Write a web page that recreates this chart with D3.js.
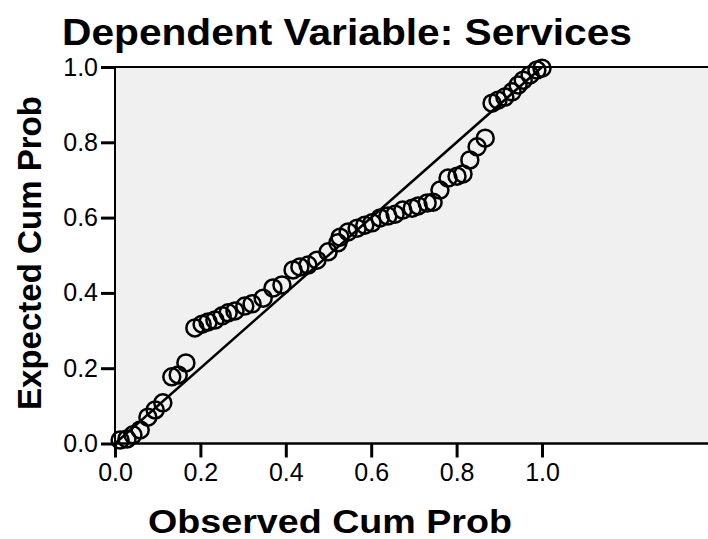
<!DOCTYPE html>
<html>
<head>
<meta charset="utf-8">
<script src="https://cdn.jsdelivr.net/npm/d3@7"></script>
<style>
  body { margin: 0; background: #fff; }
  text { font-family: "Liberation Sans", Arial, sans-serif; }
</style>
</head>
<body>
<div id="chart"></div>
<script>
// observed vs expected cumulative probability
const observed = [0.012, 0.028, 0.042, 0.059, 0.077, 0.094, 0.112, 0.133, 0.148, 0.166,
  0.187, 0.204, 0.218, 0.234, 0.251, 0.265, 0.281, 0.304, 0.321, 0.347,
  0.370, 0.391, 0.417, 0.433, 0.452, 0.473, 0.499, 0.522, 0.527, 0.546,
  0.567, 0.585, 0.602, 0.621, 0.639, 0.656, 0.674, 0.696, 0.710, 0.731,
  0.745, 0.761, 0.780, 0.801, 0.815, 0.831, 0.848, 0.867, 0.883, 0.897,
  0.913, 0.930, 0.944, 0.956, 0.972, 0.988, 1.0];
const expected = [0.009, 0.012, 0.023, 0.036, 0.070, 0.089, 0.108, 0.177, 0.182, 0.214,
  0.307, 0.317, 0.323, 0.328, 0.339, 0.347, 0.352, 0.365, 0.371, 0.386,
  0.413, 0.421, 0.461, 0.469, 0.474, 0.487, 0.509, 0.533, 0.548, 0.562,
  0.572, 0.580, 0.586, 0.599, 0.604, 0.609, 0.620, 0.625, 0.631, 0.639,
  0.641, 0.673, 0.705, 0.710, 0.716, 0.753, 0.788, 0.811, 0.904, 0.912,
  0.920, 0.934, 0.952, 0.965, 0.979, 0.992, 0.997];
const tickValues = [0, 0.2, 0.4, 0.6, 0.8, 1.0];
const refLine = [0, 1];

const width = 708, height = 539;

const svg = d3.select("#chart")
  .append("svg")
  .attr("width", width)
  .attr("height", height);

let x = d3.scaleLinear().domain([0, 1]).range([115, 542]);
let y = d3.scaleLinear().domain([0, 1]).range([443.5, 67]);

// plot background
svg.append("rect")
  .attr("x", x(0))
  .attr("y", y(1))
  .attr("width", width - x(0))
  .attr("height", y(0) - y(1))
  .style("fill", "#f0f0f0");

// axes
let yAxis = d3.axisLeft(y).tickValues(tickValues).tickSize(14).tickPadding(3)
  .tickFormat(d3.format(".1f"));
let gy = svg.append("g")
  .attr("transform", "translate(" + x(0) + ",0)")
  .call(yAxis);

let xAxis = d3.axisBottom(x).tickValues(tickValues).tickSize(14).tickPadding(6)
  .tickFormat(d3.format(".1f"));
let gx = svg.append("g")
  .attr("transform", "translate(0," + y(0) + ")")
  .call(xAxis);

[gx, gy].forEach(g => {
  g.select(".domain").remove();
  g.selectAll(".tick line").style("stroke", "#000").style("stroke-width", 3);
  g.selectAll(".tick text")
    .style("font-size", "25px")
    .style("fill", "#000");
});

// frame lines
svg.append("line")
  .attr("x1", x(0)).attr("x2", width)
  .attr("y1", y(1)).attr("y2", y(1))
  .style("stroke", "#000").style("stroke-width", 2);
svg.append("line")
  .attr("x1", x(0)).attr("x2", width)
  .attr("y1", y(0)).attr("y2", y(0))
  .style("stroke", "#000").style("stroke-width", 2.5);
svg.append("line")
  .attr("x1", x(0)).attr("x2", x(0))
  .attr("y1", y(1)).attr("y2", y(0))
  .style("stroke", "#000").style("stroke-width", 2);

// reference diagonal
svg.append("line")
  .attr("x1", x(refLine[0])).attr("y1", y(refLine[0]))
  .attr("x2", x(refLine[1])).attr("y2", y(refLine[1]))
  .style("stroke", "#000").style("stroke-width", 2.5);

// points
svg.selectAll("circle.pt")
  .data(observed.map((o, i) => ({o: o, e: expected[i]})))
  .enter().append("circle")
  .attr("class", "pt")
  .attr("cx", d => x(d.o))
  .attr("cy", d => y(d.e))
  .attr("r", 8.5)
  .style("fill", "none")
  .style("stroke", "#000")
  .style("stroke-width", 2.5);

// titles
svg.append("text")
  .attr("x", 62).attr("y", 45)
  .attr("textLength", 570).attr("lengthAdjust", "spacingAndGlyphs")
  .style("font-size", "37px").style("font-weight", "bold")
  .text("Dependent Variable: Services");

svg.append("text")
  .attr("x", 148).attr("y", 533)
  .attr("textLength", 364).attr("lengthAdjust", "spacingAndGlyphs")
  .style("font-size", "33px").style("font-weight", "bold")
  .text("Observed Cum Prob");

svg.append("text")
  .attr("transform", "translate(41,410) rotate(-90)")
  .attr("textLength", 314).attr("lengthAdjust", "spacingAndGlyphs")
  .style("font-size", "34px").style("font-weight", "bold")
  .text("Expected Cum Prob");
</script>
</body>
</html>
